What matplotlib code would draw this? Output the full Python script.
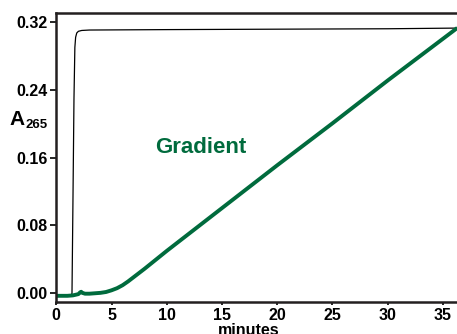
import matplotlib.pyplot as plt

# trazos (minutos, absorbancia)
t_pulso = [0, 1.0, 1.38, 1.42, 1.5, 1.6, 1.68, 1.75, 1.85, 2.0, 2.3, 3, 10, 20, 30, 36.3]
a_pulso = [-0.002, -0.002, -0.002, 0.0, 0.10, 0.23, 0.29, 0.302, 0.307, 0.309, 0.310,
           0.3105, 0.311, 0.3115, 0.312, 0.3128]

t_grad = [0, 0.5, 1.0, 1.5, 2.0, 2.15, 2.25, 2.35, 2.6, 3.0, 3.5, 4.0, 4.5, 5.0, 5.5,
          6.0, 6.5, 7.0, 7.5, 8, 10, 15, 20, 25, 30, 36.3]
a_grad = [-0.003, -0.003, -0.003, -0.0025, -0.001, 0.001, 0.0018, 0.0005, -0.0005,
          -0.0005, 0.0, 0.0005, 0.0015, 0.0035, 0.006, 0.0095, 0.0140, 0.0190, 0.0240,
          0.0290, 0.050, 0.1005, 0.151, 0.2005, 0.251, 0.313]

yticks = [0.00, 0.08, 0.16, 0.24, 0.32]
xticks = [0, 5, 10, 15, 20, 25, 30, 35]

plt.rcParams['font.family'] = ['Liberation Sans', 'DejaVu Sans']
plt.rcParams['font.weight'] = 'bold'

verde = '#006b3d'

fig = plt.figure(figsize=(4.57, 3.34), dpi=100)
ax = fig.add_axes([0.1232, 0.0958, 0.8768, 0.8653])

ax.plot(t_pulso, a_pulso, color='black', lw=0.9)
ax.plot(t_grad, a_grad, color=verde, lw=2.8, solid_capstyle='butt')

ax.set_xlim(0, 36.27)
ax.set_ylim(-0.0103, 0.3306)
ax.set_yticks(yticks)
ax.set_yticklabels(['%.2f' % v for v in yticks])
ax.set_xticks(xticks)
ax.set_xticklabels([str(v) for v in xticks])

for lado in ['left', 'top', 'bottom']:
    ax.spines[lado].set_linewidth(1.8)
    ax.spines[lado].set_color('#231f20')
ax.spines['right'].set_visible(False)

ax.tick_params(axis='y', direction='out', length=4.5, width=1.2, pad=1.5, labelsize=11.5)
ax.tick_params(axis='x', direction='out', length=2.5, width=1.2, pad=1.5, labelsize=11.5)
for lab in ax.get_xticklabels() + ax.get_yticklabels():
    lab.set_fontweight('bold')

# en el original la etiqueta queda cortada por el borde inferior
ax.set_xlabel('minutes', fontsize=11.5, fontweight='bold')
ax.xaxis.set_label_coords(0.481, -0.072)

fig.text(9 / 457, 1 - 125 / 334, 'A', fontsize=15, fontweight='bold', va='baseline')
fig.text(25 / 457, 1 - 128 / 334, '265', fontsize=9.5, fontweight='bold', va='baseline')

ax.text(8.94, 0.1657, 'Gradient', color=verde, fontsize=16, fontweight='bold',
        ha='left', va='baseline')

plt.savefig('out.png', dpi=100)
